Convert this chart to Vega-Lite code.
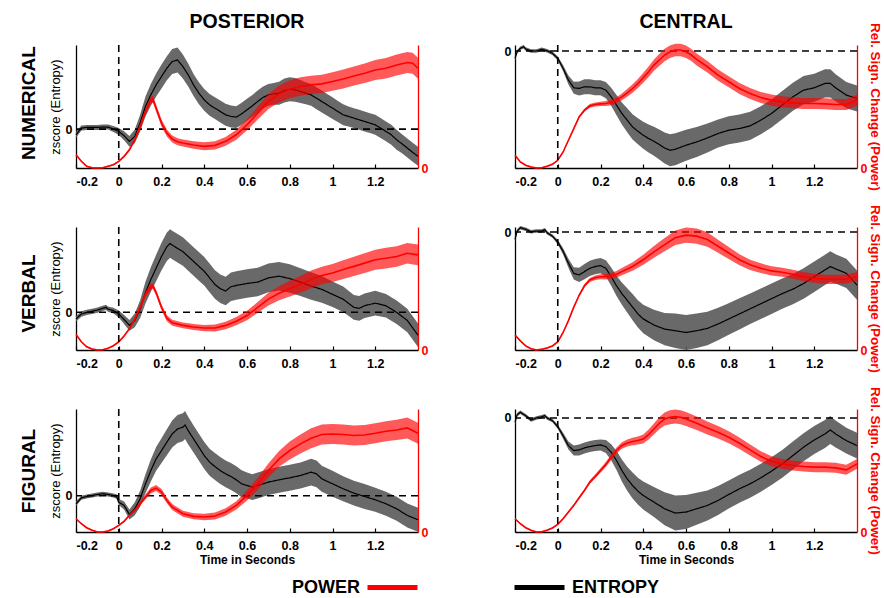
{
"$schema":"https://vega.github.io/schema/vega-lite/v6.json",
"padding":{"left":20,"top":11,"right":0,"bottom":0},
"spacing":13,
"datasets":{
"A_e":[{"t":-0.2,"v":-0.57,"w":0.3},{"t":-0.175,"v":0.1,"w":0.25},{"t":-0.15,"v":0.17,"w":0.25},{"t":-0.125,"v":0.17,"w":0.25},{"t":-0.1,"v":0.17,"w":0.25},{"t":-0.075,"v":0.2,"w":0.25},{"t":-0.05,"v":0.2,"w":0.25},{"t":-0.025,"v":0,"w":0.3},{"t":0,"v":-0.23,"w":0.35},{"t":0.025,"v":-0.67,"w":0.45},{"t":0.05,"v":-1.23,"w":0.55},{"t":0.075,"v":-0.73,"w":0.7},{"t":0.1,"v":0.6,"w":0.85},{"t":0.125,"v":2.27,"w":1.0},{"t":0.15,"v":3.43,"w":1.1},{"t":0.175,"v":4.43,"w":1.15},{"t":0.2,"v":5.27,"w":1.2},{"t":0.225,"v":6.1,"w":1.2},{"t":0.25,"v":6.77,"w":1.25},{"t":0.275,"v":6.93,"w":1.25},{"t":0.3,"v":6.27,"w":1.2},{"t":0.325,"v":5.43,"w":1.15},{"t":0.35,"v":4.43,"w":1.1},{"t":0.375,"v":3.6,"w":1.1},{"t":0.4,"v":2.93,"w":1.1},{"t":0.425,"v":2.43,"w":1.1},{"t":0.45,"v":2.1,"w":1.1},{"t":0.475,"v":1.77,"w":1.1},{"t":0.5,"v":1.43,"w":1.1},{"t":0.525,"v":1.27,"w":1.1},{"t":0.55,"v":1.2,"w":1.1},{"t":0.575,"v":1.53,"w":1.1},{"t":0.6,"v":1.93,"w":1.1},{"t":0.625,"v":2.33,"w":1.1},{"t":0.65,"v":2.77,"w":1.1},{"t":0.675,"v":3.17,"w":1.1},{"t":0.7,"v":3.43,"w":1.1},{"t":0.725,"v":3.53,"w":1.1},{"t":0.75,"v":3.6,"w":1.15},{"t":0.775,"v":3.87,"w":1.2},{"t":0.8,"v":4.0,"w":1.2},{"t":0.825,"v":3.93,"w":1.2},{"t":0.85,"v":3.77,"w":1.15},{"t":0.875,"v":3.6,"w":1.1},{"t":0.9,"v":3.43,"w":1.1},{"t":0.925,"v":3.1,"w":1.1},{"t":0.95,"v":2.77,"w":1.1},{"t":0.975,"v":2.43,"w":1.1},{"t":1.0,"v":2.1,"w":1.1},{"t":1.025,"v":1.77,"w":1.05},{"t":1.05,"v":1.43,"w":1.05},{"t":1.075,"v":1.27,"w":1.0},{"t":1.1,"v":1.1,"w":1.0},{"t":1.125,"v":0.93,"w":1.0},{"t":1.15,"v":0.77,"w":1.0},{"t":1.175,"v":0.6,"w":1.0},{"t":1.2,"v":0.43,"w":1.0},{"t":1.225,"v":0.1,"w":1.0},{"t":1.25,"v":-0.23,"w":1.0},{"t":1.275,"v":-0.57,"w":1.0},{"t":1.3,"v":-1.07,"w":1.0},{"t":1.325,"v":-1.47,"w":0.95},{"t":1.35,"v":-1.9,"w":0.95},{"t":1.375,"v":-2.33,"w":0.95},{"t":1.4,"v":-2.73,"w":0.95}],
"A_p":[{"t":-0.2,"v":1.33,"w":0.07},{"t":-0.175,"v":0.67,"w":0.07},{"t":-0.15,"v":0.17,"w":0.07},{"t":-0.125,"v":0.02,"w":0.07},{"t":-0.1,"v":0,"w":0.07},{"t":-0.075,"v":0.02,"w":0.07},{"t":-0.05,"v":0.17,"w":0.07},{"t":-0.025,"v":0.33,"w":0.07},{"t":0,"v":0.67,"w":0.08},{"t":0.025,"v":1.17,"w":0.1},{"t":0.05,"v":1.83,"w":0.15},{"t":0.075,"v":2.83,"w":0.2},{"t":0.1,"v":4.17,"w":0.28},{"t":0.125,"v":5.67,"w":0.33},{"t":0.15,"v":6.83,"w":0.35},{"t":0.16,"v":6.9,"w":0.35},{"t":0.175,"v":6.0,"w":0.35},{"t":0.2,"v":4.5,"w":0.35},{"t":0.225,"v":3.5,"w":0.35},{"t":0.25,"v":2.9,"w":0.35},{"t":0.275,"v":2.63,"w":0.35},{"t":0.3,"v":2.5,"w":0.35},{"t":0.35,"v":2.3,"w":0.38},{"t":0.4,"v":2.17,"w":0.4},{"t":0.45,"v":2.27,"w":0.42},{"t":0.5,"v":2.67,"w":0.45},{"t":0.55,"v":3.33,"w":0.5},{"t":0.6,"v":4.33,"w":0.55},{"t":0.65,"v":5.5,"w":0.65},{"t":0.7,"v":6.67,"w":0.75},{"t":0.75,"v":7.43,"w":0.85},{"t":0.8,"v":7.9,"w":0.9},{"t":0.85,"v":8.17,"w":0.92},{"t":0.9,"v":8.33,"w":0.92},{"t":0.95,"v":8.43,"w":0.92},{"t":1.0,"v":8.67,"w":0.92},{"t":1.05,"v":8.93,"w":0.95},{"t":1.1,"v":9.23,"w":0.95},{"t":1.15,"v":9.5,"w":0.98},{"t":1.2,"v":9.83,"w":1.0},{"t":1.25,"v":10.0,"w":1.02},{"t":1.3,"v":10.33,"w":1.05},{"t":1.35,"v":10.57,"w":1.05},{"t":1.375,"v":10.5,"w":1.05},{"t":1.4,"v":10.0,"w":1.05}],
"B_e":[{"t":-0.2,"v":-0.73,"w":0.2},{"t":-0.19,"v":-0.07,"w":0.17},{"t":-0.175,"v":0.27,"w":0.17},{"t":-0.16,"v":0.43,"w":0.17},{"t":-0.15,"v":0.2,"w":0.17},{"t":-0.125,"v":0,"w":0.17},{"t":-0.1,"v":0,"w":0.17},{"t":-0.075,"v":0.17,"w":0.17},{"t":-0.05,"v":0.03,"w":0.17},{"t":-0.025,"v":-0.23,"w":0.17},{"t":0,"v":-0.73,"w":0.22},{"t":0.025,"v":-1.73,"w":0.3},{"t":0.05,"v":-2.9,"w":0.45},{"t":0.075,"v":-3.67,"w":0.6},{"t":0.1,"v":-3.73,"w":0.7},{"t":0.125,"v":-3.57,"w":0.75},{"t":0.15,"v":-3.57,"w":0.75},{"t":0.175,"v":-3.67,"w":0.75},{"t":0.2,"v":-3.67,"w":0.75},{"t":0.225,"v":-3.9,"w":0.8},{"t":0.25,"v":-4.57,"w":0.9},{"t":0.275,"v":-5.4,"w":1.0},{"t":0.3,"v":-6.23,"w":1.1},{"t":0.325,"v":-6.9,"w":1.2},{"t":0.35,"v":-7.57,"w":1.25},{"t":0.375,"v":-8.0,"w":1.3},{"t":0.4,"v":-8.4,"w":1.35},{"t":0.425,"v":-8.73,"w":1.4},{"t":0.45,"v":-9.0,"w":1.45},{"t":0.475,"v":-9.33,"w":1.5},{"t":0.5,"v":-9.67,"w":1.55},{"t":0.525,"v":-9.9,"w":1.6},{"t":0.55,"v":-9.8,"w":1.6},{"t":0.6,"v":-9.4,"w":1.55},{"t":0.65,"v":-9.07,"w":1.5},{"t":0.7,"v":-8.67,"w":1.45},{"t":0.75,"v":-8.23,"w":1.4},{"t":0.8,"v":-7.9,"w":1.4},{"t":0.85,"v":-7.73,"w":1.4},{"t":0.9,"v":-7.47,"w":1.4},{"t":0.95,"v":-6.9,"w":1.4},{"t":1.0,"v":-6.23,"w":1.4},{"t":1.05,"v":-5.4,"w":1.4},{"t":1.1,"v":-4.57,"w":1.4},{"t":1.15,"v":-3.9,"w":1.4},{"t":1.2,"v":-3.67,"w":1.4},{"t":1.25,"v":-3.23,"w":1.4},{"t":1.275,"v":-3.23,"w":1.4},{"t":1.3,"v":-3.67,"w":1.35},{"t":1.35,"v":-4.4,"w":1.3},{"t":1.4,"v":-4.73,"w":1.3}],
"B_p":[{"t":-0.2,"v":1.27,"w":0.07},{"t":-0.175,"v":0.6,"w":0.07},{"t":-0.15,"v":0.27,"w":0.07},{"t":-0.125,"v":0.1,"w":0.07},{"t":-0.1,"v":0,"w":0.07},{"t":-0.075,"v":0.03,"w":0.07},{"t":-0.05,"v":0.17,"w":0.07},{"t":-0.025,"v":0.37,"w":0.07},{"t":0,"v":0.77,"w":0.08},{"t":0.025,"v":1.6,"w":0.1},{"t":0.05,"v":2.77,"w":0.1},{"t":0.075,"v":3.93,"w":0.12},{"t":0.1,"v":5.1,"w":0.13},{"t":0.125,"v":5.77,"w":0.15},{"t":0.15,"v":6.2,"w":0.18},{"t":0.175,"v":6.33,"w":0.2},{"t":0.2,"v":6.4,"w":0.22},{"t":0.225,"v":6.43,"w":0.25},{"t":0.25,"v":6.53,"w":0.28},{"t":0.275,"v":6.77,"w":0.3},{"t":0.3,"v":7.1,"w":0.33},{"t":0.325,"v":7.5,"w":0.38},{"t":0.35,"v":7.93,"w":0.42},{"t":0.375,"v":8.43,"w":0.46},{"t":0.4,"v":9.0,"w":0.5},{"t":0.425,"v":9.6,"w":0.53},{"t":0.45,"v":10.27,"w":0.56},{"t":0.475,"v":10.77,"w":0.6},{"t":0.5,"v":11.27,"w":0.62},{"t":0.525,"v":11.6,"w":0.62},{"t":0.55,"v":11.77,"w":0.62},{"t":0.575,"v":11.77,"w":0.62},{"t":0.6,"v":11.6,"w":0.62},{"t":0.625,"v":11.27,"w":0.6},{"t":0.65,"v":10.83,"w":0.6},{"t":0.7,"v":10.1,"w":0.58},{"t":0.75,"v":9.27,"w":0.56},{"t":0.8,"v":8.6,"w":0.55},{"t":0.85,"v":7.93,"w":0.55},{"t":0.9,"v":7.43,"w":0.55},{"t":0.95,"v":7.03,"w":0.55},{"t":1.0,"v":6.77,"w":0.55},{"t":1.05,"v":6.6,"w":0.55},{"t":1.1,"v":6.5,"w":0.55},{"t":1.15,"v":6.43,"w":0.55},{"t":1.2,"v":6.43,"w":0.55},{"t":1.25,"v":6.4,"w":0.55},{"t":1.3,"v":6.33,"w":0.55},{"t":1.35,"v":6.33,"w":0.55},{"t":1.4,"v":6.77,"w":0.55}],
"C_e":[{"t":-0.2,"v":-0.67,"w":0.27},{"t":-0.175,"v":-0.17,"w":0.27},{"t":-0.15,"v":0,"w":0.27},{"t":-0.125,"v":0.1,"w":0.27},{"t":-0.1,"v":0.23,"w":0.27},{"t":-0.075,"v":0.4,"w":0.27},{"t":-0.06,"v":0.5,"w":0.27},{"t":-0.05,"v":0.33,"w":0.27},{"t":-0.025,"v":0.17,"w":0.3},{"t":0,"v":-0.17,"w":0.35},{"t":0.025,"v":-0.73,"w":0.45},{"t":0.05,"v":-1.33,"w":0.55},{"t":0.075,"v":-0.83,"w":0.7},{"t":0.1,"v":0.33,"w":0.9},{"t":0.125,"v":2.0,"w":1.1},{"t":0.15,"v":3.33,"w":1.25},{"t":0.175,"v":4.5,"w":1.35},{"t":0.2,"v":5.67,"w":1.4},{"t":0.225,"v":6.67,"w":1.45},{"t":0.24,"v":7.0,"w":1.45},{"t":0.25,"v":6.83,"w":1.45},{"t":0.275,"v":6.5,"w":1.45},{"t":0.3,"v":6.17,"w":1.45},{"t":0.325,"v":5.67,"w":1.45},{"t":0.35,"v":5.17,"w":1.45},{"t":0.375,"v":4.67,"w":1.45},{"t":0.4,"v":4.17,"w":1.45},{"t":0.425,"v":3.5,"w":1.45},{"t":0.45,"v":2.83,"w":1.45},{"t":0.475,"v":2.4,"w":1.45},{"t":0.5,"v":2.17,"w":1.45},{"t":0.525,"v":2.6,"w":1.45},{"t":0.55,"v":2.73,"w":1.45},{"t":0.6,"v":2.93,"w":1.45},{"t":0.65,"v":3.07,"w":1.45},{"t":0.7,"v":3.5,"w":1.45},{"t":0.75,"v":3.67,"w":1.45},{"t":0.8,"v":3.43,"w":1.45},{"t":0.85,"v":3.07,"w":1.4},{"t":0.9,"v":2.67,"w":1.4},{"t":0.95,"v":2.33,"w":1.35},{"t":1.0,"v":1.83,"w":1.3},{"t":1.05,"v":1.33,"w":1.3},{"t":1.1,"v":0.5,"w":1.25},{"t":1.125,"v":0.4,"w":1.25},{"t":1.15,"v":0.67,"w":1.25},{"t":1.2,"v":0.93,"w":1.25},{"t":1.25,"v":0.67,"w":1.2},{"t":1.3,"v":0,"w":1.2},{"t":1.35,"v":-0.83,"w":1.2},{"t":1.4,"v":-2.33,"w":1.2}],
"C_p":[{"t":-0.2,"v":1.57,"w":0.07},{"t":-0.175,"v":0.83,"w":0.07},{"t":-0.15,"v":0.33,"w":0.07},{"t":-0.125,"v":0.1,"w":0.07},{"t":-0.1,"v":0,"w":0.07},{"t":-0.075,"v":0.03,"w":0.07},{"t":-0.05,"v":0.17,"w":0.07},{"t":-0.025,"v":0.43,"w":0.07},{"t":0,"v":0.83,"w":0.08},{"t":0.025,"v":1.43,"w":0.1},{"t":0.05,"v":2.17,"w":0.15},{"t":0.075,"v":3.17,"w":0.2},{"t":0.1,"v":4.33,"w":0.25},{"t":0.125,"v":5.67,"w":0.3},{"t":0.15,"v":6.43,"w":0.3},{"t":0.16,"v":6.5,"w":0.3},{"t":0.175,"v":5.83,"w":0.3},{"t":0.2,"v":4.33,"w":0.3},{"t":0.225,"v":3.23,"w":0.3},{"t":0.25,"v":2.77,"w":0.3},{"t":0.3,"v":2.5,"w":0.3},{"t":0.35,"v":2.33,"w":0.3},{"t":0.4,"v":2.23,"w":0.32},{"t":0.45,"v":2.23,"w":0.35},{"t":0.5,"v":2.5,"w":0.38},{"t":0.55,"v":2.93,"w":0.42},{"t":0.6,"v":3.5,"w":0.48},{"t":0.65,"v":4.33,"w":0.55},{"t":0.7,"v":5.17,"w":0.65},{"t":0.75,"v":5.77,"w":0.72},{"t":0.8,"v":6.23,"w":0.8},{"t":0.85,"v":6.67,"w":0.85},{"t":0.9,"v":7.17,"w":0.9},{"t":0.95,"v":7.57,"w":0.9},{"t":1.0,"v":7.83,"w":0.92},{"t":1.05,"v":8.17,"w":0.95},{"t":1.1,"v":8.5,"w":0.98},{"t":1.15,"v":8.83,"w":1.0},{"t":1.2,"v":9.17,"w":1.02},{"t":1.25,"v":9.33,"w":1.05},{"t":1.3,"v":9.5,"w":1.05},{"t":1.35,"v":9.83,"w":1.05},{"t":1.4,"v":9.67,"w":1.05}],
"D_e":[{"t":-0.2,"v":-0.73,"w":0.2},{"t":-0.19,"v":0.1,"w":0.17},{"t":-0.175,"v":0.43,"w":0.17},{"t":-0.15,"v":0.27,"w":0.17},{"t":-0.125,"v":0.03,"w":0.17},{"t":-0.1,"v":0.1,"w":0.17},{"t":-0.075,"v":0.1,"w":0.17},{"t":-0.06,"v":0.23,"w":0.17},{"t":-0.05,"v":-0.07,"w":0.17},{"t":-0.025,"v":-0.4,"w":0.17},{"t":0,"v":-0.97,"w":0.22},{"t":0.025,"v":-1.9,"w":0.3},{"t":0.05,"v":-3.07,"w":0.45},{"t":0.075,"v":-4.07,"w":0.6},{"t":0.1,"v":-4.23,"w":0.7},{"t":0.125,"v":-3.9,"w":0.75},{"t":0.15,"v":-3.57,"w":0.75},{"t":0.175,"v":-3.4,"w":0.75},{"t":0.2,"v":-3.3,"w":0.75},{"t":0.225,"v":-3.57,"w":0.8},{"t":0.25,"v":-4.4,"w":0.9},{"t":0.275,"v":-5.3,"w":1.0},{"t":0.3,"v":-6.07,"w":1.1},{"t":0.325,"v":-6.73,"w":1.2},{"t":0.35,"v":-7.4,"w":1.3},{"t":0.375,"v":-8.07,"w":1.35},{"t":0.4,"v":-8.57,"w":1.4},{"t":0.45,"v":-9.17,"w":1.5},{"t":0.5,"v":-9.57,"w":1.6},{"t":0.55,"v":-9.73,"w":1.7},{"t":0.6,"v":-9.9,"w":1.72},{"t":0.65,"v":-9.73,"w":1.7},{"t":0.7,"v":-9.5,"w":1.65},{"t":0.75,"v":-9.07,"w":1.6},{"t":0.8,"v":-8.57,"w":1.55},{"t":0.85,"v":-8.07,"w":1.55},{"t":0.9,"v":-7.57,"w":1.5},{"t":0.95,"v":-7.07,"w":1.5},{"t":1.0,"v":-6.57,"w":1.5},{"t":1.05,"v":-6.07,"w":1.5},{"t":1.1,"v":-5.63,"w":1.5},{"t":1.15,"v":-5.07,"w":1.5},{"t":1.2,"v":-4.4,"w":1.5},{"t":1.25,"v":-3.73,"w":1.5},{"t":1.275,"v":-3.4,"w":1.5},{"t":1.3,"v":-3.63,"w":1.45},{"t":1.35,"v":-4.07,"w":1.45},{"t":1.4,"v":-5.23,"w":1.45}],
"D_p":[{"t":-0.2,"v":1.47,"w":0.07},{"t":-0.175,"v":0.9,"w":0.07},{"t":-0.15,"v":0.4,"w":0.07},{"t":-0.125,"v":0.13,"w":0.07},{"t":-0.1,"v":0,"w":0.07},{"t":-0.075,"v":0.07,"w":0.07},{"t":-0.05,"v":0.2,"w":0.07},{"t":-0.025,"v":0.4,"w":0.07},{"t":0,"v":0.8,"w":0.08},{"t":0.025,"v":1.73,"w":0.1},{"t":0.05,"v":2.9,"w":0.1},{"t":0.075,"v":4.23,"w":0.12},{"t":0.1,"v":5.4,"w":0.14},{"t":0.125,"v":6.33,"w":0.17},{"t":0.15,"v":6.9,"w":0.2},{"t":0.175,"v":7.13,"w":0.22},{"t":0.2,"v":7.23,"w":0.25},{"t":0.225,"v":7.23,"w":0.27},{"t":0.25,"v":7.33,"w":0.3},{"t":0.275,"v":7.47,"w":0.32},{"t":0.3,"v":7.73,"w":0.35},{"t":0.35,"v":8.23,"w":0.42},{"t":0.4,"v":8.9,"w":0.5},{"t":0.45,"v":9.67,"w":0.58},{"t":0.5,"v":10.4,"w":0.65},{"t":0.55,"v":11.07,"w":0.72},{"t":0.6,"v":11.33,"w":0.75},{"t":0.65,"v":11.23,"w":0.75},{"t":0.7,"v":10.9,"w":0.72},{"t":0.75,"v":10.23,"w":0.65},{"t":0.8,"v":9.57,"w":0.6},{"t":0.85,"v":8.9,"w":0.55},{"t":0.9,"v":8.4,"w":0.5},{"t":0.95,"v":8.07,"w":0.48},{"t":1.0,"v":7.8,"w":0.45},{"t":1.05,"v":7.67,"w":0.45},{"t":1.1,"v":7.47,"w":0.45},{"t":1.15,"v":7.23,"w":0.45},{"t":1.2,"v":7.07,"w":0.45},{"t":1.25,"v":6.97,"w":0.45},{"t":1.3,"v":6.97,"w":0.45},{"t":1.35,"v":7.0,"w":0.45},{"t":1.4,"v":7.23,"w":0.45}],
"E_e":[{"t":-0.2,"v":-0.8,"w":0.22},{"t":-0.175,"v":-0.2,"w":0.2},{"t":-0.15,"v":-0.07,"w":0.2},{"t":-0.125,"v":0.03,"w":0.2},{"t":-0.1,"v":0.13,"w":0.2},{"t":-0.075,"v":0.2,"w":0.2},{"t":-0.05,"v":0.13,"w":0.2},{"t":-0.025,"v":0.03,"w":0.2},{"t":-0.01,"v":-0.07,"w":0.22},{"t":0,"v":-0.63,"w":0.3},{"t":0.025,"v":-0.97,"w":0.4},{"t":0.05,"v":-1.87,"w":0.5},{"t":0.075,"v":-1.3,"w":0.65},{"t":0.1,"v":-0.3,"w":0.8},{"t":0.125,"v":1.2,"w":0.95},{"t":0.15,"v":2.53,"w":1.1},{"t":0.175,"v":3.7,"w":1.2},{"t":0.2,"v":4.53,"w":1.25},{"t":0.225,"v":5.37,"w":1.3},{"t":0.25,"v":6.2,"w":1.35},{"t":0.275,"v":6.7,"w":1.4},{"t":0.3,"v":6.87,"w":1.4},{"t":0.31,"v":7.1,"w":1.4},{"t":0.325,"v":6.53,"w":1.4},{"t":0.35,"v":5.7,"w":1.35},{"t":0.375,"v":4.87,"w":1.35},{"t":0.4,"v":4.03,"w":1.35},{"t":0.425,"v":3.37,"w":1.35},{"t":0.45,"v":2.93,"w":1.35},{"t":0.475,"v":2.53,"w":1.35},{"t":0.5,"v":2.2,"w":1.35},{"t":0.525,"v":1.93,"w":1.35},{"t":0.55,"v":1.6,"w":1.35},{"t":0.575,"v":1.2,"w":1.35},{"t":0.6,"v":1.03,"w":1.3},{"t":0.625,"v":0.87,"w":1.3},{"t":0.65,"v":1.03,"w":1.3},{"t":0.7,"v":1.37,"w":1.3},{"t":0.75,"v":1.6,"w":1.3},{"t":0.8,"v":1.8,"w":1.3},{"t":0.85,"v":2.03,"w":1.3},{"t":0.9,"v":2.37,"w":1.35},{"t":0.925,"v":2.2,"w":1.35},{"t":0.95,"v":1.7,"w":1.3},{"t":1.0,"v":1.2,"w":1.3},{"t":1.05,"v":0.7,"w":1.25},{"t":1.1,"v":0.27,"w":1.25},{"t":1.15,"v":-0.07,"w":1.25},{"t":1.2,"v":-0.4,"w":1.2},{"t":1.25,"v":-0.8,"w":1.2},{"t":1.3,"v":-1.3,"w":1.2},{"t":1.35,"v":-1.97,"w":1.2},{"t":1.4,"v":-2.4,"w":1.2}],
"E_p":[{"t":-0.2,"v":1.33,"w":0.07},{"t":-0.175,"v":0.83,"w":0.07},{"t":-0.15,"v":0.43,"w":0.07},{"t":-0.125,"v":0.17,"w":0.07},{"t":-0.1,"v":0,"w":0.07},{"t":-0.075,"v":0,"w":0.07},{"t":-0.05,"v":0.1,"w":0.07},{"t":-0.025,"v":0.33,"w":0.07},{"t":0,"v":0.67,"w":0.08},{"t":0.025,"v":1.07,"w":0.1},{"t":0.05,"v":1.67,"w":0.12},{"t":0.075,"v":2.17,"w":0.15},{"t":0.1,"v":2.83,"w":0.2},{"t":0.125,"v":3.5,"w":0.25},{"t":0.15,"v":4.17,"w":0.3},{"t":0.175,"v":4.4,"w":0.3},{"t":0.2,"v":4.0,"w":0.3},{"t":0.225,"v":3.17,"w":0.3},{"t":0.25,"v":2.5,"w":0.3},{"t":0.3,"v":1.83,"w":0.3},{"t":0.35,"v":1.57,"w":0.3},{"t":0.4,"v":1.5,"w":0.32},{"t":0.45,"v":1.6,"w":0.35},{"t":0.5,"v":2.0,"w":0.38},{"t":0.55,"v":2.67,"w":0.42},{"t":0.6,"v":3.67,"w":0.5},{"t":0.65,"v":4.83,"w":0.6},{"t":0.7,"v":6.17,"w":0.7},{"t":0.75,"v":7.33,"w":0.8},{"t":0.8,"v":8.17,"w":0.9},{"t":0.85,"v":8.83,"w":0.95},{"t":0.9,"v":9.4,"w":1.0},{"t":0.95,"v":9.77,"w":1.0},{"t":1.0,"v":9.83,"w":1.0},{"t":1.05,"v":9.77,"w":1.0},{"t":1.1,"v":9.67,"w":1.0},{"t":1.15,"v":9.73,"w":1.0},{"t":1.2,"v":9.9,"w":1.0},{"t":1.25,"v":10.1,"w":1.0},{"t":1.3,"v":10.23,"w":1.02},{"t":1.35,"v":10.43,"w":1.05},{"t":1.4,"v":9.9,"w":1.05}],
"F_e":[{"t":-0.2,"v":-0.43,"w":0.2},{"t":-0.19,"v":0.33,"w":0.17},{"t":-0.175,"v":0.57,"w":0.17},{"t":-0.15,"v":0.23,"w":0.17},{"t":-0.125,"v":-0.2,"w":0.17},{"t":-0.1,"v":0,"w":0.17},{"t":-0.075,"v":0.13,"w":0.17},{"t":-0.06,"v":0.23,"w":0.17},{"t":-0.05,"v":0,"w":0.17},{"t":-0.025,"v":-0.27,"w":0.17},{"t":0,"v":-0.87,"w":0.22},{"t":0.025,"v":-1.77,"w":0.3},{"t":0.05,"v":-2.77,"w":0.4},{"t":0.075,"v":-3.27,"w":0.5},{"t":0.1,"v":-3.2,"w":0.55},{"t":0.125,"v":-3.0,"w":0.55},{"t":0.15,"v":-2.87,"w":0.55},{"t":0.175,"v":-2.77,"w":0.55},{"t":0.2,"v":-2.7,"w":0.55},{"t":0.225,"v":-2.87,"w":0.65},{"t":0.25,"v":-3.43,"w":0.8},{"t":0.275,"v":-4.27,"w":0.95},{"t":0.3,"v":-5.27,"w":1.1},{"t":0.325,"v":-6.1,"w":1.2},{"t":0.35,"v":-6.77,"w":1.3},{"t":0.375,"v":-7.33,"w":1.35},{"t":0.4,"v":-7.77,"w":1.4},{"t":0.45,"v":-8.43,"w":1.5},{"t":0.5,"v":-9.1,"w":1.65},{"t":0.55,"v":-9.53,"w":1.75},{"t":0.6,"v":-9.43,"w":1.7},{"t":0.65,"v":-9.1,"w":1.6},{"t":0.7,"v":-8.77,"w":1.5},{"t":0.75,"v":-8.27,"w":1.45},{"t":0.8,"v":-7.67,"w":1.4},{"t":0.85,"v":-7.1,"w":1.4},{"t":0.9,"v":-6.6,"w":1.4},{"t":0.95,"v":-6.0,"w":1.4},{"t":1.0,"v":-5.33,"w":1.4},{"t":1.05,"v":-4.6,"w":1.4},{"t":1.1,"v":-3.77,"w":1.4},{"t":1.15,"v":-2.93,"w":1.4},{"t":1.2,"v":-2.2,"w":1.4},{"t":1.25,"v":-1.6,"w":1.4},{"t":1.275,"v":-1.2,"w":1.4},{"t":1.3,"v":-1.6,"w":1.35},{"t":1.35,"v":-2.27,"w":1.3},{"t":1.4,"v":-2.77,"w":1.3}],
"F_p":[{"t":-0.2,"v":1.33,"w":0.07},{"t":-0.175,"v":0.83,"w":0.07},{"t":-0.15,"v":0.43,"w":0.07},{"t":-0.125,"v":0.17,"w":0.07},{"t":-0.1,"v":0,"w":0.07},{"t":-0.075,"v":0.03,"w":0.07},{"t":-0.05,"v":0.17,"w":0.07},{"t":-0.025,"v":0.4,"w":0.07},{"t":0,"v":0.77,"w":0.08},{"t":0.025,"v":1.33,"w":0.1},{"t":0.05,"v":2.0,"w":0.1},{"t":0.075,"v":2.67,"w":0.12},{"t":0.1,"v":3.43,"w":0.14},{"t":0.125,"v":4.17,"w":0.16},{"t":0.15,"v":5.0,"w":0.18},{"t":0.175,"v":5.57,"w":0.2},{"t":0.2,"v":6.17,"w":0.22},{"t":0.225,"v":6.77,"w":0.25},{"t":0.25,"v":7.5,"w":0.28},{"t":0.275,"v":8.17,"w":0.3},{"t":0.3,"v":8.67,"w":0.33},{"t":0.325,"v":8.93,"w":0.35},{"t":0.35,"v":9.07,"w":0.38},{"t":0.375,"v":9.17,"w":0.4},{"t":0.4,"v":9.33,"w":0.45},{"t":0.425,"v":9.77,"w":0.5},{"t":0.45,"v":10.33,"w":0.55},{"t":0.475,"v":10.9,"w":0.6},{"t":0.5,"v":11.33,"w":0.65},{"t":0.525,"v":11.5,"w":0.7},{"t":0.55,"v":11.57,"w":0.7},{"t":0.575,"v":11.5,"w":0.7},{"t":0.6,"v":11.33,"w":0.7},{"t":0.65,"v":10.9,"w":0.68},{"t":0.7,"v":10.43,"w":0.65},{"t":0.75,"v":10.0,"w":0.62},{"t":0.8,"v":9.5,"w":0.6},{"t":0.85,"v":8.9,"w":0.58},{"t":0.9,"v":8.23,"w":0.55},{"t":0.95,"v":7.57,"w":0.52},{"t":1.0,"v":7.1,"w":0.5},{"t":1.05,"v":6.83,"w":0.5},{"t":1.1,"v":6.67,"w":0.5},{"t":1.15,"v":6.57,"w":0.5},{"t":1.2,"v":6.5,"w":0.5},{"t":1.25,"v":6.5,"w":0.5},{"t":1.3,"v":6.43,"w":0.5},{"t":1.35,"v":6.23,"w":0.5},{"t":1.4,"v":6.83,"w":0.5}]
},
"vconcat":[
{"title":{"text":"NUMERICAL","orient":"left","anchor":"middle","frame":"bounds","fontSize":19,"fontWeight":"bold","color":"#000000","offset":10,"dx":-2},
"bounds":"flush","spacing":97,
"hconcat":[
{"width":342,"height":123,
"title":{"text":"POSTERIOR","anchor":"middle","frame":"group","fontSize":19.5,"fontWeight":"bold","color":"#000000","offset":12},
"layer":[
{"layer":[
{"data":{"name":"A_e"},"mark":{"type":"errorband","color":"#5c5c5c","opacity":0.92},"encoding":{"x":{"field":"t","type":"quantitative","scale":{"domain":[-0.2,1.4],"nice":false,"zero":false},"axis":{"values":[-0.2,0,0.2,0.4,0.6,0.8,1,1.2],"format":"~g","labelExpr":"replace(datum.label,'\u2212','-')","title":null}},"y":{"field":"v","type":"quantitative","scale":{"domain":[-3.9,8.43],"nice":false,"zero":false},"axis":{"orient":"left","values":[0],"title":"zscore (Entropy)"}},"yError":{"field":"w"}}},
{"data":{"name":"A_e"},"mark":{"type":"line","color":"#000000","strokeWidth":1.2},"encoding":{"x":{"field":"t","type":"quantitative","scale":{"domain":[-0.2,1.4],"nice":false,"zero":false},"axis":{"values":[-0.2,0,0.2,0.4,0.6,0.8,1,1.2],"format":"~g","labelExpr":"replace(datum.label,'\u2212','-')","title":null}},"y":{"field":"v","type":"quantitative","scale":{"domain":[-3.9,8.43],"nice":false,"zero":false},"axis":{"orient":"left","values":[0],"title":"zscore (Entropy)"}},"strokeDash":{"datum":"ENTROPY","scale":{"domain":["ENTROPY"],"range":[[1,0]]},"legend":{"orient":"none","legendX":436,"legendY":515,"title":null,"symbolType":"stroke","symbolSize":2500,"symbolStrokeWidth":5,"symbolStrokeColor":"#000000","labelFontSize":18,"labelFontWeight":"bold","labelColor":"#000000","labelOffset":5,"padding":0}}}},
{"data":{"values":[{}]},"mark":{"type":"rule","color":"#000000","strokeWidth":1.6,"strokeDash":[7,5]},"encoding":{"y":{"datum":0,"type":"quantitative","scale":{"domain":[-3.9,8.43],"nice":false,"zero":false},"axis":{"orient":"left","values":[0],"title":"zscore (Entropy)"}}}}
]},
{"layer":[
{"data":{"name":"A_p"},"mark":{"type":"errorband","color":"#ff0000","opacity":0.65},"encoding":{"x":{"field":"t","type":"quantitative","scale":{"domain":[-0.2,1.4],"nice":false,"zero":false},"axis":{"values":[-0.2,0,0.2,0.4,0.6,0.8,1,1.2],"format":"~g","labelExpr":"replace(datum.label,'\u2212','-')","title":null}},"y":{"field":"v","type":"quantitative","scale":{"domain":[0,12.33],"nice":false,"zero":false},"axis":{"orient":"right","values":[0],"title":null}},"yError":{"field":"w"}}},
{"data":{"name":"A_p"},"mark":{"type":"line","strokeWidth":1.6},"encoding":{"x":{"field":"t","type":"quantitative","scale":{"domain":[-0.2,1.4],"nice":false,"zero":false},"axis":{"values":[-0.2,0,0.2,0.4,0.6,0.8,1,1.2],"format":"~g","labelExpr":"replace(datum.label,'\u2212','-')","title":null}},"y":{"field":"v","type":"quantitative","scale":{"domain":[0,12.33],"nice":false,"zero":false},"axis":{"orient":"right","values":[0],"title":null}},"color":{"datum":"POWER","scale":{"domain":["POWER"],"range":["#ff0000"]},"legend":{"orient":"none","legendX":289,"legendY":515,"title":null,"symbolType":"stroke","symbolSize":2500,"symbolStrokeWidth":5,"labelFontSize":18,"labelFontWeight":"bold","labelColor":"#000000","labelAlign":"right","labelOffset":-60,"padding":0}}}}
]},
{"data":{"values":[{}]},"mark":{"type":"rule","color":"#000000","strokeWidth":1.6,"strokeDash":[7,5]},"encoding":{"x":{"datum":0,"type":"quantitative","scale":{"domain":[-0.2,1.4],"nice":false,"zero":false},"axis":{"values":[-0.2,0,0.2,0.4,0.6,0.8,1,1.2],"format":"~g","labelExpr":"replace(datum.label,'\u2212','-')","title":null}}}}
],
"resolve":{"scale":{"y":"independent"},"axis":{"y":"independent"}}},
{"width":342,"height":123,
"title":{"text":"CENTRAL","anchor":"middle","frame":"group","fontSize":19.5,"fontWeight":"bold","color":"#000000","offset":-10.5},
"layer":[
{"layer":[
{"data":{"name":"B_e"},"mark":{"type":"errorband","color":"#5c5c5c","opacity":0.92},"encoding":{"x":{"field":"t","type":"quantitative","scale":{"domain":[-0.2,1.4],"nice":false,"zero":false},"axis":{"values":[-0.2,0,0.2,0.4,0.6,0.8,1,1.2],"format":"~g","labelExpr":"replace(datum.label,'\u2212','-')","title":null}},"y":{"field":"v","type":"quantitative","scale":{"domain":[-11.67,0.6],"nice":false,"zero":false},"axis":{"orient":"left","values":[0],"title":null}},"yError":{"field":"w"}}},
{"data":{"name":"B_e"},"mark":{"type":"line","color":"#000000","strokeWidth":1.2},"encoding":{"x":{"field":"t","type":"quantitative","scale":{"domain":[-0.2,1.4],"nice":false,"zero":false},"axis":{"values":[-0.2,0,0.2,0.4,0.6,0.8,1,1.2],"format":"~g","labelExpr":"replace(datum.label,'\u2212','-')","title":null}},"y":{"field":"v","type":"quantitative","scale":{"domain":[-11.67,0.6],"nice":false,"zero":false},"axis":{"orient":"left","values":[0],"title":null}},"strokeDash":{"datum":"ENTROPY","scale":{"domain":["ENTROPY"],"range":[[1,0]]},"legend":{"orient":"none","legendX":436,"legendY":515,"title":null,"symbolType":"stroke","symbolSize":2500,"symbolStrokeWidth":5,"symbolStrokeColor":"#000000","labelFontSize":18,"labelFontWeight":"bold","labelColor":"#000000","labelOffset":5,"padding":0}}}},
{"data":{"values":[{}]},"mark":{"type":"rule","color":"#000000","strokeWidth":1.6,"strokeDash":[7,5]},"encoding":{"y":{"datum":0,"type":"quantitative","scale":{"domain":[-11.67,0.6],"nice":false,"zero":false},"axis":{"orient":"left","values":[0],"title":null}}}}
]},
{"layer":[
{"data":{"name":"B_p"},"mark":{"type":"errorband","color":"#ff0000","opacity":0.65},"encoding":{"x":{"field":"t","type":"quantitative","scale":{"domain":[-0.2,1.4],"nice":false,"zero":false},"axis":{"values":[-0.2,0,0.2,0.4,0.6,0.8,1,1.2],"format":"~g","labelExpr":"replace(datum.label,'\u2212','-')","title":null}},"y":{"field":"v","type":"quantitative","scale":{"domain":[0,12.27],"nice":false,"zero":false},"axis":{"orient":"right","values":[0],"title":"Rel. Sign. Change (Power)"}},"yError":{"field":"w"}}},
{"data":{"name":"B_p"},"mark":{"type":"line","strokeWidth":1.6},"encoding":{"x":{"field":"t","type":"quantitative","scale":{"domain":[-0.2,1.4],"nice":false,"zero":false},"axis":{"values":[-0.2,0,0.2,0.4,0.6,0.8,1,1.2],"format":"~g","labelExpr":"replace(datum.label,'\u2212','-')","title":null}},"y":{"field":"v","type":"quantitative","scale":{"domain":[0,12.27],"nice":false,"zero":false},"axis":{"orient":"right","values":[0],"title":"Rel. Sign. Change (Power)"}},"color":{"datum":"POWER","scale":{"domain":["POWER"],"range":["#ff0000"]},"legend":{"orient":"none","legendX":289,"legendY":515,"title":null,"symbolType":"stroke","symbolSize":2500,"symbolStrokeWidth":5,"labelFontSize":18,"labelFontWeight":"bold","labelColor":"#000000","labelAlign":"right","labelOffset":-60,"padding":0}}}}
]},
{"data":{"values":[{}]},"mark":{"type":"rule","color":"#000000","strokeWidth":1.6,"strokeDash":[7,5]},"encoding":{"x":{"datum":0,"type":"quantitative","scale":{"domain":[-0.2,1.4],"nice":false,"zero":false},"axis":{"values":[-0.2,0,0.2,0.4,0.6,0.8,1,1.2],"format":"~g","labelExpr":"replace(datum.label,'\u2212','-')","title":null}}}}
],
"resolve":{"scale":{"y":"independent"},"axis":{"y":"independent"}}}
]},
{"title":{"text":"VERBAL","orient":"left","anchor":"middle","frame":"bounds","fontSize":19,"fontWeight":"bold","color":"#000000","offset":10,"dx":-5},
"bounds":"flush","spacing":97,
"hconcat":[
{"width":342,"height":123,
"layer":[
{"layer":[
{"data":{"name":"C_e"},"mark":{"type":"errorband","color":"#5c5c5c","opacity":0.92},"encoding":{"x":{"field":"t","type":"quantitative","scale":{"domain":[-0.2,1.4],"nice":false,"zero":false},"axis":{"values":[-0.2,0,0.2,0.4,0.6,0.8,1,1.2],"format":"~g","labelExpr":"replace(datum.label,'\u2212','-')","title":null}},"y":{"field":"v","type":"quantitative","scale":{"domain":[-3.83,8.67],"nice":false,"zero":false},"axis":{"orient":"left","values":[0],"title":"zscore (Entropy)"}},"yError":{"field":"w"}}},
{"data":{"name":"C_e"},"mark":{"type":"line","color":"#000000","strokeWidth":1.2},"encoding":{"x":{"field":"t","type":"quantitative","scale":{"domain":[-0.2,1.4],"nice":false,"zero":false},"axis":{"values":[-0.2,0,0.2,0.4,0.6,0.8,1,1.2],"format":"~g","labelExpr":"replace(datum.label,'\u2212','-')","title":null}},"y":{"field":"v","type":"quantitative","scale":{"domain":[-3.83,8.67],"nice":false,"zero":false},"axis":{"orient":"left","values":[0],"title":"zscore (Entropy)"}},"strokeDash":{"datum":"ENTROPY","scale":{"domain":["ENTROPY"],"range":[[1,0]]},"legend":{"orient":"none","legendX":436,"legendY":515,"title":null,"symbolType":"stroke","symbolSize":2500,"symbolStrokeWidth":5,"symbolStrokeColor":"#000000","labelFontSize":18,"labelFontWeight":"bold","labelColor":"#000000","labelOffset":5,"padding":0}}}},
{"data":{"values":[{}]},"mark":{"type":"rule","color":"#000000","strokeWidth":1.6,"strokeDash":[7,5]},"encoding":{"y":{"datum":0,"type":"quantitative","scale":{"domain":[-3.83,8.67],"nice":false,"zero":false},"axis":{"orient":"left","values":[0],"title":"zscore (Entropy)"}}}}
]},
{"layer":[
{"data":{"name":"C_p"},"mark":{"type":"errorband","color":"#ff0000","opacity":0.65},"encoding":{"x":{"field":"t","type":"quantitative","scale":{"domain":[-0.2,1.4],"nice":false,"zero":false},"axis":{"values":[-0.2,0,0.2,0.4,0.6,0.8,1,1.2],"format":"~g","labelExpr":"replace(datum.label,'\u2212','-')","title":null}},"y":{"field":"v","type":"quantitative","scale":{"domain":[0,12.5],"nice":false,"zero":false},"axis":{"orient":"right","values":[0],"title":null}},"yError":{"field":"w"}}},
{"data":{"name":"C_p"},"mark":{"type":"line","strokeWidth":1.6},"encoding":{"x":{"field":"t","type":"quantitative","scale":{"domain":[-0.2,1.4],"nice":false,"zero":false},"axis":{"values":[-0.2,0,0.2,0.4,0.6,0.8,1,1.2],"format":"~g","labelExpr":"replace(datum.label,'\u2212','-')","title":null}},"y":{"field":"v","type":"quantitative","scale":{"domain":[0,12.5],"nice":false,"zero":false},"axis":{"orient":"right","values":[0],"title":null}},"color":{"datum":"POWER","scale":{"domain":["POWER"],"range":["#ff0000"]},"legend":{"orient":"none","legendX":289,"legendY":515,"title":null,"symbolType":"stroke","symbolSize":2500,"symbolStrokeWidth":5,"labelFontSize":18,"labelFontWeight":"bold","labelColor":"#000000","labelAlign":"right","labelOffset":-60,"padding":0}}}}
]},
{"data":{"values":[{}]},"mark":{"type":"rule","color":"#000000","strokeWidth":1.6,"strokeDash":[7,5]},"encoding":{"x":{"datum":0,"type":"quantitative","scale":{"domain":[-0.2,1.4],"nice":false,"zero":false},"axis":{"values":[-0.2,0,0.2,0.4,0.6,0.8,1,1.2],"format":"~g","labelExpr":"replace(datum.label,'\u2212','-')","title":null}}}}
],
"resolve":{"scale":{"y":"independent"},"axis":{"y":"independent"}}},
{"width":342,"height":123,
"layer":[
{"layer":[
{"data":{"name":"D_e"},"mark":{"type":"errorband","color":"#5c5c5c","opacity":0.92},"encoding":{"x":{"field":"t","type":"quantitative","scale":{"domain":[-0.2,1.4],"nice":false,"zero":false},"axis":{"values":[-0.2,0,0.2,0.4,0.6,0.8,1,1.2],"format":"~g","labelExpr":"replace(datum.label,'\u2212','-')","title":null}},"y":{"field":"v","type":"quantitative","scale":{"domain":[-11.63,0.5],"nice":false,"zero":false},"axis":{"orient":"left","values":[0],"title":null}},"yError":{"field":"w"}}},
{"data":{"name":"D_e"},"mark":{"type":"line","color":"#000000","strokeWidth":1.2},"encoding":{"x":{"field":"t","type":"quantitative","scale":{"domain":[-0.2,1.4],"nice":false,"zero":false},"axis":{"values":[-0.2,0,0.2,0.4,0.6,0.8,1,1.2],"format":"~g","labelExpr":"replace(datum.label,'\u2212','-')","title":null}},"y":{"field":"v","type":"quantitative","scale":{"domain":[-11.63,0.5],"nice":false,"zero":false},"axis":{"orient":"left","values":[0],"title":null}},"strokeDash":{"datum":"ENTROPY","scale":{"domain":["ENTROPY"],"range":[[1,0]]},"legend":{"orient":"none","legendX":436,"legendY":515,"title":null,"symbolType":"stroke","symbolSize":2500,"symbolStrokeWidth":5,"symbolStrokeColor":"#000000","labelFontSize":18,"labelFontWeight":"bold","labelColor":"#000000","labelOffset":5,"padding":0}}}},
{"data":{"values":[{}]},"mark":{"type":"rule","color":"#000000","strokeWidth":1.6,"strokeDash":[7,5]},"encoding":{"y":{"datum":0,"type":"quantitative","scale":{"domain":[-11.63,0.5],"nice":false,"zero":false},"axis":{"orient":"left","values":[0],"title":null}}}}
]},
{"layer":[
{"data":{"name":"D_p"},"mark":{"type":"errorband","color":"#ff0000","opacity":0.65},"encoding":{"x":{"field":"t","type":"quantitative","scale":{"domain":[-0.2,1.4],"nice":false,"zero":false},"axis":{"values":[-0.2,0,0.2,0.4,0.6,0.8,1,1.2],"format":"~g","labelExpr":"replace(datum.label,'\u2212','-')","title":null}},"y":{"field":"v","type":"quantitative","scale":{"domain":[0,12.13],"nice":false,"zero":false},"axis":{"orient":"right","values":[0],"title":"Rel. Sign. Change (Power)"}},"yError":{"field":"w"}}},
{"data":{"name":"D_p"},"mark":{"type":"line","strokeWidth":1.6},"encoding":{"x":{"field":"t","type":"quantitative","scale":{"domain":[-0.2,1.4],"nice":false,"zero":false},"axis":{"values":[-0.2,0,0.2,0.4,0.6,0.8,1,1.2],"format":"~g","labelExpr":"replace(datum.label,'\u2212','-')","title":null}},"y":{"field":"v","type":"quantitative","scale":{"domain":[0,12.13],"nice":false,"zero":false},"axis":{"orient":"right","values":[0],"title":"Rel. Sign. Change (Power)"}},"color":{"datum":"POWER","scale":{"domain":["POWER"],"range":["#ff0000"]},"legend":{"orient":"none","legendX":289,"legendY":515,"title":null,"symbolType":"stroke","symbolSize":2500,"symbolStrokeWidth":5,"labelFontSize":18,"labelFontWeight":"bold","labelColor":"#000000","labelAlign":"right","labelOffset":-60,"padding":0}}}}
]},
{"data":{"values":[{}]},"mark":{"type":"rule","color":"#000000","strokeWidth":1.6,"strokeDash":[7,5]},"encoding":{"x":{"datum":0,"type":"quantitative","scale":{"domain":[-0.2,1.4],"nice":false,"zero":false},"axis":{"values":[-0.2,0,0.2,0.4,0.6,0.8,1,1.2],"format":"~g","labelExpr":"replace(datum.label,'\u2212','-')","title":null}}}}
],
"resolve":{"scale":{"y":"independent"},"axis":{"y":"independent"}}}
]},
{"title":{"text":"FIGURAL","orient":"left","anchor":"middle","frame":"bounds","fontSize":19,"fontWeight":"bold","color":"#000000","offset":10,"dx":5},
"bounds":"flush","spacing":97,
"hconcat":[
{"width":342,"height":123,
"layer":[
{"layer":[
{"data":{"name":"E_e"},"mark":{"type":"errorband","color":"#5c5c5c","opacity":0.92},"encoding":{"x":{"field":"t","type":"quantitative","scale":{"domain":[-0.2,1.4],"nice":false,"zero":false},"axis":{"values":[-0.2,0,0.2,0.4,0.6,0.8,1,1.2],"format":"~g","labelExpr":"replace(datum.label,'\u2212','-')","title":"Time in Seconds"}},"y":{"field":"v","type":"quantitative","scale":{"domain":[-3.63,8.7],"nice":false,"zero":false},"axis":{"orient":"left","values":[0],"title":"zscore (Entropy)"}},"yError":{"field":"w"}}},
{"data":{"name":"E_e"},"mark":{"type":"line","color":"#000000","strokeWidth":1.2},"encoding":{"x":{"field":"t","type":"quantitative","scale":{"domain":[-0.2,1.4],"nice":false,"zero":false},"axis":{"values":[-0.2,0,0.2,0.4,0.6,0.8,1,1.2],"format":"~g","labelExpr":"replace(datum.label,'\u2212','-')","title":"Time in Seconds"}},"y":{"field":"v","type":"quantitative","scale":{"domain":[-3.63,8.7],"nice":false,"zero":false},"axis":{"orient":"left","values":[0],"title":"zscore (Entropy)"}},"strokeDash":{"datum":"ENTROPY","scale":{"domain":["ENTROPY"],"range":[[1,0]]},"legend":{"orient":"none","legendX":436,"legendY":515,"title":null,"symbolType":"stroke","symbolSize":2500,"symbolStrokeWidth":5,"symbolStrokeColor":"#000000","labelFontSize":18,"labelFontWeight":"bold","labelColor":"#000000","labelOffset":5,"padding":0}}}},
{"data":{"values":[{}]},"mark":{"type":"rule","color":"#000000","strokeWidth":1.6,"strokeDash":[7,5]},"encoding":{"y":{"datum":0,"type":"quantitative","scale":{"domain":[-3.63,8.7],"nice":false,"zero":false},"axis":{"orient":"left","values":[0],"title":"zscore (Entropy)"}}}}
]},
{"layer":[
{"data":{"name":"E_p"},"mark":{"type":"errorband","color":"#ff0000","opacity":0.65},"encoding":{"x":{"field":"t","type":"quantitative","scale":{"domain":[-0.2,1.4],"nice":false,"zero":false},"axis":{"values":[-0.2,0,0.2,0.4,0.6,0.8,1,1.2],"format":"~g","labelExpr":"replace(datum.label,'\u2212','-')","title":"Time in Seconds"}},"y":{"field":"v","type":"quantitative","scale":{"domain":[0,12.33],"nice":false,"zero":false},"axis":{"orient":"right","values":[0],"title":null}},"yError":{"field":"w"}}},
{"data":{"name":"E_p"},"mark":{"type":"line","strokeWidth":1.6},"encoding":{"x":{"field":"t","type":"quantitative","scale":{"domain":[-0.2,1.4],"nice":false,"zero":false},"axis":{"values":[-0.2,0,0.2,0.4,0.6,0.8,1,1.2],"format":"~g","labelExpr":"replace(datum.label,'\u2212','-')","title":"Time in Seconds"}},"y":{"field":"v","type":"quantitative","scale":{"domain":[0,12.33],"nice":false,"zero":false},"axis":{"orient":"right","values":[0],"title":null}},"color":{"datum":"POWER","scale":{"domain":["POWER"],"range":["#ff0000"]},"legend":{"orient":"none","legendX":289,"legendY":515,"title":null,"symbolType":"stroke","symbolSize":2500,"symbolStrokeWidth":5,"labelFontSize":18,"labelFontWeight":"bold","labelColor":"#000000","labelAlign":"right","labelOffset":-60,"padding":0}}}}
]},
{"data":{"values":[{}]},"mark":{"type":"rule","color":"#000000","strokeWidth":1.6,"strokeDash":[7,5]},"encoding":{"x":{"datum":0,"type":"quantitative","scale":{"domain":[-0.2,1.4],"nice":false,"zero":false},"axis":{"values":[-0.2,0,0.2,0.4,0.6,0.8,1,1.2],"format":"~g","labelExpr":"replace(datum.label,'\u2212','-')","title":"Time in Seconds"}}}}
],
"resolve":{"scale":{"y":"independent"},"axis":{"y":"independent"}}},
{"width":342,"height":123,
"layer":[
{"layer":[
{"data":{"name":"F_e"},"mark":{"type":"errorband","color":"#5c5c5c","opacity":0.92},"encoding":{"x":{"field":"t","type":"quantitative","scale":{"domain":[-0.2,1.4],"nice":false,"zero":false},"axis":{"values":[-0.2,0,0.2,0.4,0.6,0.8,1,1.2],"format":"~g","labelExpr":"replace(datum.label,'\u2212','-')","title":"Time in Seconds"}},"y":{"field":"v","type":"quantitative","scale":{"domain":[-11.43,0.9],"nice":false,"zero":false},"axis":{"orient":"left","values":[0],"title":null}},"yError":{"field":"w"}}},
{"data":{"name":"F_e"},"mark":{"type":"line","color":"#000000","strokeWidth":1.2},"encoding":{"x":{"field":"t","type":"quantitative","scale":{"domain":[-0.2,1.4],"nice":false,"zero":false},"axis":{"values":[-0.2,0,0.2,0.4,0.6,0.8,1,1.2],"format":"~g","labelExpr":"replace(datum.label,'\u2212','-')","title":"Time in Seconds"}},"y":{"field":"v","type":"quantitative","scale":{"domain":[-11.43,0.9],"nice":false,"zero":false},"axis":{"orient":"left","values":[0],"title":null}},"strokeDash":{"datum":"ENTROPY","scale":{"domain":["ENTROPY"],"range":[[1,0]]},"legend":{"orient":"none","legendX":436,"legendY":515,"title":null,"symbolType":"stroke","symbolSize":2500,"symbolStrokeWidth":5,"symbolStrokeColor":"#000000","labelFontSize":18,"labelFontWeight":"bold","labelColor":"#000000","labelOffset":5,"padding":0}}}},
{"data":{"values":[{}]},"mark":{"type":"rule","color":"#000000","strokeWidth":1.6,"strokeDash":[7,5]},"encoding":{"y":{"datum":0,"type":"quantitative","scale":{"domain":[-11.43,0.9],"nice":false,"zero":false},"axis":{"orient":"left","values":[0],"title":null}}}}
]},
{"layer":[
{"data":{"name":"F_p"},"mark":{"type":"errorband","color":"#ff0000","opacity":0.65},"encoding":{"x":{"field":"t","type":"quantitative","scale":{"domain":[-0.2,1.4],"nice":false,"zero":false},"axis":{"values":[-0.2,0,0.2,0.4,0.6,0.8,1,1.2],"format":"~g","labelExpr":"replace(datum.label,'\u2212','-')","title":"Time in Seconds"}},"y":{"field":"v","type":"quantitative","scale":{"domain":[0,12.33],"nice":false,"zero":false},"axis":{"orient":"right","values":[0],"title":"Rel. Sign. Change (Power)"}},"yError":{"field":"w"}}},
{"data":{"name":"F_p"},"mark":{"type":"line","strokeWidth":1.6},"encoding":{"x":{"field":"t","type":"quantitative","scale":{"domain":[-0.2,1.4],"nice":false,"zero":false},"axis":{"values":[-0.2,0,0.2,0.4,0.6,0.8,1,1.2],"format":"~g","labelExpr":"replace(datum.label,'\u2212','-')","title":"Time in Seconds"}},"y":{"field":"v","type":"quantitative","scale":{"domain":[0,12.33],"nice":false,"zero":false},"axis":{"orient":"right","values":[0],"title":"Rel. Sign. Change (Power)"}},"color":{"datum":"POWER","scale":{"domain":["POWER"],"range":["#ff0000"]},"legend":{"orient":"none","legendX":289,"legendY":515,"title":null,"symbolType":"stroke","symbolSize":2500,"symbolStrokeWidth":5,"labelFontSize":18,"labelFontWeight":"bold","labelColor":"#000000","labelAlign":"right","labelOffset":-60,"padding":0}}}}
]},
{"data":{"values":[{}]},"mark":{"type":"rule","color":"#000000","strokeWidth":1.6,"strokeDash":[7,5]},"encoding":{"x":{"datum":0,"type":"quantitative","scale":{"domain":[-0.2,1.4],"nice":false,"zero":false},"axis":{"values":[-0.2,0,0.2,0.4,0.6,0.8,1,1.2],"format":"~g","labelExpr":"replace(datum.label,'\u2212','-')","title":"Time in Seconds"}}}}
],
"resolve":{"scale":{"y":"independent"},"axis":{"y":"independent"}}}
]}
],
"config":{
"font":"Liberation Sans",
"view":{"stroke":null},
"axis":{"grid":false,"ticks":false,"labelFontSize":12.5,"labelFontWeight":"bold","domainWidth":1.3,"labelPadding":4,"titleFontSize":12},
"axisLeft":{"domainColor":"#000000","labelColor":"#000000","titleColor":"#000000","titleFontWeight":"normal","titleFontSize":13,"titlePadding":3},
"axisRight":{"domainColor":"#ff0000","labelColor":"#ff0000","titleColor":"#ff0000","titleFontWeight":"bold","titleFontSize":13.5,"labelPadding":3,"titlePadding":1},
"axisBottom":{"domainColor":"#000000","labelColor":"#000000","titleColor":"#000000","ticks":true,"tickSize":-4,"tickColor":"#000000","tickWidth":1.2,"labelPadding":11,"titleFontWeight":"bold","titlePadding":3}
}
}
